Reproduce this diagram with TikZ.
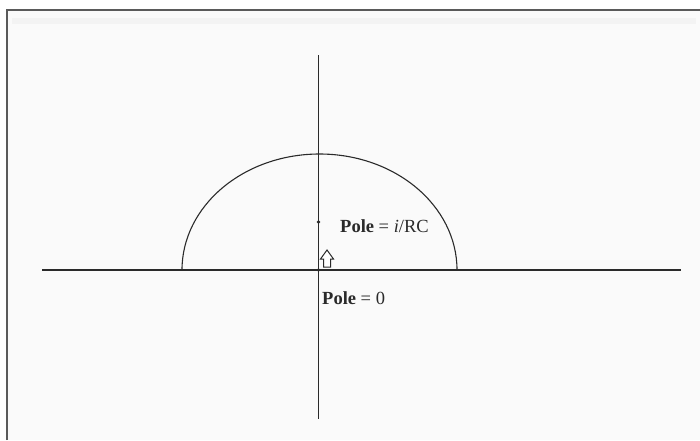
\documentclass[tikz,border=0pt]{standalone}
\usepackage{fontspec}
\setmainfont{Liberation Serif}
\definecolor{bgc}{HTML}{FAFAFA}
\definecolor{stripc}{HTML}{F3F3F3}
\definecolor{framec}{HTML}{5A5A5A}
\definecolor{inkc}{HTML}{2A2A2A}
\begin{document}
\begin{tikzpicture}[x=1pt,y=-1pt,
  axis/.style={draw=inkc,line width=1.1pt},
  polelabel/.style={anchor=base west,inner sep=0pt,font=\fontsize{18.5}{21}\selectfont,text=inkc},
  poledot/.style={circle,fill=inkc,inner sep=0pt,minimum size=3.6pt}]
\useasboundingbox (0,0) rectangle (700,440);
\fill[white] (0,0) rectangle (700,440);
\fill[bgc] (8,10) rectangle (700,440);
\fill[stripc] (12,18) rectangle (696,24);
\draw[framec,line width=2pt] (7,440) -- (7,9.5) -- (700,9.5);
% axes
\coordinate (xl) at (42,270);
\coordinate (xr) at (681,270);
\coordinate (yt) at (318.5,55);
\coordinate (yb) at (318.5,419);
\draw[axis] (xl) -- (xr);
\draw[axis] (yt) -- (yb);
% semicircle
\coordinate (al) at (182,270);
\draw[axis] (al) arc[start angle=180,end angle=360,x radius=137.5,y radius=116];
% poles
\node[poledot] (p1) at (318.5,222) {};
\node[poledot] (p0) at (318.5,270) {};
\node[polelabel] (l1) at (340,232) {\textbf{Pole} = \textit{i}/RC};
\node[polelabel] (l0) at (322,304) {\textbf{Pole} = 0};
% hollow arrow
\draw[draw=inkc,line width=1pt,line join=miter,fill=white]
  (327,250) -- (333.5,259) -- (330.5,259) -- (330.5,267) -- (323.5,267) -- (323.5,259) -- (320.5,259) -- cycle;
\end{tikzpicture}
\end{document}
